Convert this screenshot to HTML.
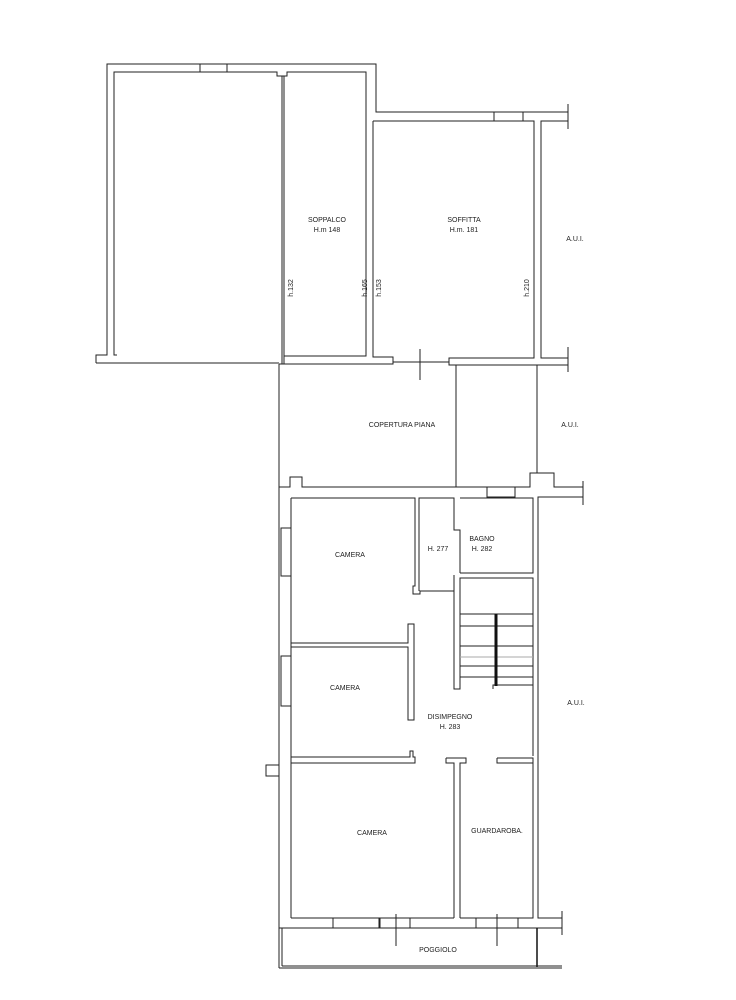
<!DOCTYPE html>
<html><head><meta charset="utf-8"><style>
html,body{margin:0;padding:0;background:#fff;}
svg{display:block;}
text{font-family:"Liberation Sans",sans-serif;font-size:7px;fill:#222;}
</style></head><body>
<svg width="736" height="1000" viewBox="0 0 736 1000" xmlns="http://www.w3.org/2000/svg">
<g fill="none" stroke="#222" stroke-width="1">
<polyline points="96,363 96,355 107,355 107,64 376,64 376,112 568,112"/>
<line x1="568" y1="104" x2="568" y2="129"/>
<polyline points="117,355 114,355 114,72 277,72 277,76 287,76 287,72 366,72 366,356 284,356 284,364"/>
<line x1="96" y1="363" x2="279" y2="363"/>
<rect x="200" y="64" width="27" height="8"/>
<line x1="282" y1="76" x2="282" y2="364"/>
<line x1="284" y1="76" x2="284" y2="356"/>
<polyline points="373,121 373,357 393,357 393,364 279,364"/>
<polyline points="373,121 534,121 534,358 449,358 449,365 568,365"/>
<rect x="494" y="112" width="29" height="9"/>
<polyline points="568,121 541,121 541,358 568,358"/>
<line x1="568" y1="347" x2="568" y2="372"/>
<line x1="393" y1="362" x2="449" y2="362"/>
<line x1="420" y1="349" x2="420" y2="380"/>
<line x1="279" y1="364" x2="279" y2="968"/>
<line x1="456" y1="365" x2="456" y2="487"/>
<line x1="537" y1="365" x2="537" y2="473"/>
<polyline points="279,487 290,487 290,477 302,477 302,487 530,487 530,473 554,473 554,487 583,487"/>
<line x1="583" y1="481" x2="583" y2="505"/>
<polyline points="583,497 538,497 538,918 562,918"/>
<line x1="562" y1="911" x2="562" y2="935"/>
<rect x="487" y="487" width="28" height="10"/>
<line x1="291" y1="498" x2="291" y2="918"/>
<rect x="281" y="528" width="10" height="48"/>
<rect x="281" y="656" width="10" height="50"/>
<rect x="266" y="765" width="13" height="11"/>
<polyline points="291,498 415,498 415,586 413,586 413,594 420,594 420,591 454,591 454,575"/>
<polyline points="419,591 419,498 454,498 454,530 460,530 460,573"/>
<polyline points="460,498 533,498 533,573 460,573"/>
<polyline points="291,643 408,643 408,624 414,624 414,720 408,720 408,647 291,647"/>
<polyline points="454,575 454,689 460,689 460,578 533,578 533,689"/>
<line x1="533" y1="689" x2="533" y2="756"/>
<polyline points="493,689 493,685 533,685"/>
<line x1="460" y1="614" x2="533" y2="614"/>
<line x1="460" y1="626" x2="533" y2="626"/>
<line x1="460" y1="646" x2="533" y2="646"/>
<line x1="460" y1="657" x2="533" y2="657" stroke="#aaa"/>
<line x1="460" y1="666" x2="533" y2="666"/>
<line x1="460" y1="677" x2="533" y2="677"/>
<polyline points="291,757 410,757 410,751 413,751 413,757 415,757 415,763 291,763"/>
<polyline points="446,758 466,758 466,763 460,763 460,918"/>
<polyline points="446,758 446,763 454,763 454,918"/>
<polyline points="497,758 533,758 533,763 497,763 497,758"/>
<line x1="291" y1="918" x2="454" y2="918"/>
<polyline points="460,918 533,918 533,763"/>
<line x1="279" y1="928" x2="562" y2="928"/>
<rect x="333" y="918" width="46" height="10"/>
<rect x="380" y="918" width="30" height="10"/>
<rect x="476" y="918" width="42" height="10"/>
<line x1="396" y1="914" x2="396" y2="946"/>
<line x1="497" y1="914" x2="497" y2="946"/>
<line x1="282" y1="928" x2="282" y2="966"/>
<line x1="279" y1="968" x2="562" y2="968"/>
<line x1="282" y1="966" x2="562" y2="966"/>
</g>
<line x1="496" y1="614" x2="496" y2="686" stroke="#111" stroke-width="3"/>
<line x1="537" y1="928" x2="537" y2="967" stroke="#111" stroke-width="1.5"/>
<text x="327" y="222" text-anchor="middle">SOPPALCO</text>
<text x="327" y="232" text-anchor="middle">H.m 148</text>
<text x="464" y="222" text-anchor="middle">SOFFITTA</text>
<text x="464" y="232" text-anchor="middle">H.m. 181</text>
<text x="575" y="241" text-anchor="middle">A.U.I.</text>
<text transform="translate(293,288) rotate(-90)" text-anchor="middle">h.132</text>
<text transform="translate(367,288) rotate(-90)" text-anchor="middle">h.165</text>
<text transform="translate(381,288) rotate(-90)" text-anchor="middle">h.153</text>
<text transform="translate(529,288) rotate(-90)" text-anchor="middle">h.210</text>
<text x="402" y="427" text-anchor="middle">COPERTURA PIANA</text>
<text x="570" y="427" text-anchor="middle">A.U.I.</text>
<text x="350" y="557" text-anchor="middle">CAMERA</text>
<text x="438" y="551" text-anchor="middle">H. 277</text>
<text x="482" y="541" text-anchor="middle">BAGNO</text>
<text x="482" y="551" text-anchor="middle">H. 282</text>
<text x="345" y="690" text-anchor="middle">CAMERA</text>
<text x="576" y="705" text-anchor="middle">A.U.I.</text>
<text x="450" y="719" text-anchor="middle">DISIMPEGNO</text>
<text x="450" y="729" text-anchor="middle">H. 283</text>
<text x="372" y="835" text-anchor="middle">CAMERA</text>
<text x="497" y="833" text-anchor="middle">GUARDAROBA.</text>
<text x="438" y="952" text-anchor="middle">POGGIOLO</text>
</svg>
</body></html>
